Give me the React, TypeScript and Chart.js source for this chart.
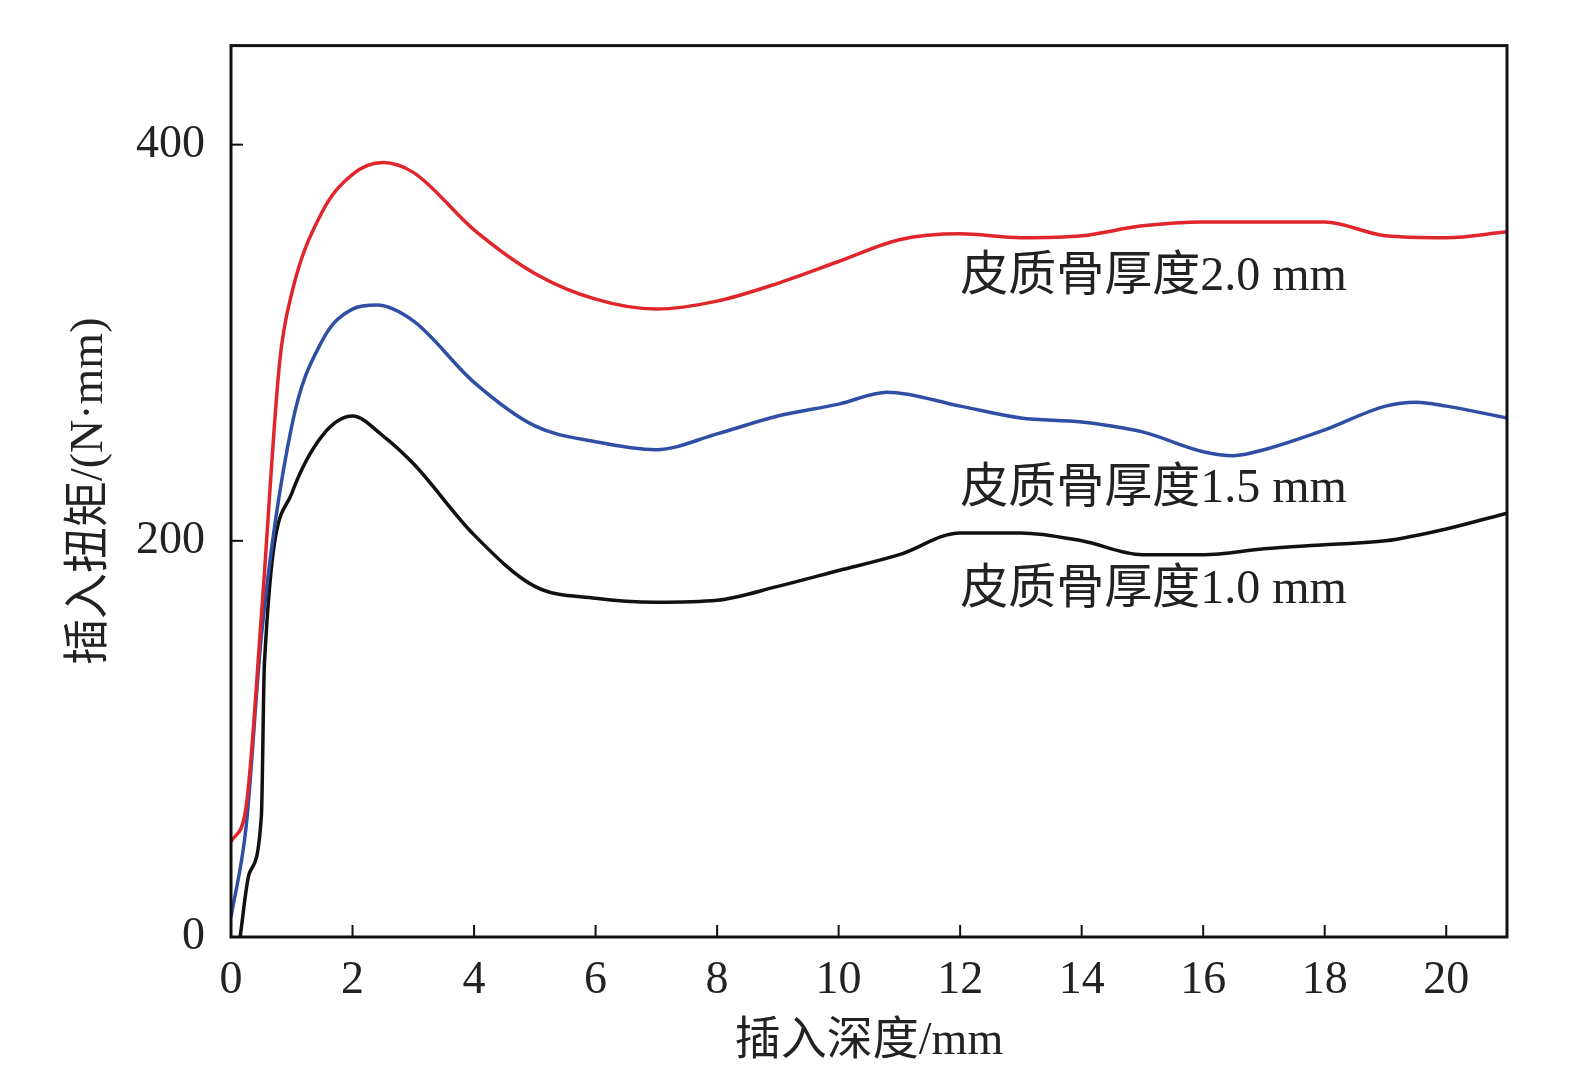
import { useEffect, useRef } from 'react';
import { Chart, registerables } from 'chart.js';

Chart.register(...registerables);

const depth20 = [0, 0.25, 0.5, 0.8, 1, 1.5, 2, 2.5, 3, 4, 5, 6, 7, 8, 9, 10, 11, 12, 13, 14, 15, 16, 17, 18, 19, 20, 21];
const torque20 = [48, 66, 162, 290, 325, 366, 385, 391, 386, 357, 335, 322, 317, 321, 330, 341, 352, 355, 353, 354, 359, 361, 361, 361, 354, 353, 356];

const depth15 = [0, 0.25, 0.5, 1, 1.5, 2, 2.4, 3, 4, 5, 6, 7, 8, 9, 10, 10.8, 12, 13, 14, 15, 16, 16.5, 17, 18, 19, 19.5, 20, 21];
const torque15 = [10, 56, 152, 258, 301, 317, 319, 311, 280, 258, 250, 246, 254, 263, 269, 275, 268, 262, 260, 255, 245, 243, 246, 256, 268, 270, 268, 262];

const depth10 = [0.15, 0.3, 0.5, 0.55, 1, 1.5, 2, 2.5, 3, 4, 5, 6, 7, 8, 9, 10, 11, 12, 13, 14, 15, 16, 17, 18, 19, 20, 21];
const torque10 = [0, 32, 61, 138, 224, 253, 263, 253, 239, 203, 177, 171, 169, 170, 177, 185, 193, 204, 204, 200, 193, 193, 196, 198, 200, 206, 214];

const xTicks = [0, 2, 4, 6, 8, 10, 12, 14, 16, 18, 20];
const yTicks = [0, 200, 400];

const labels = ['皮质骨厚度2.0 mm', '皮质骨厚度1.5 mm', '皮质骨厚度1.0 mm'];
const labelPos = [[12, 333], [12, 226], [12, 175]];
const colors = ['#e0262b', '#2e4fa3', '#111111'];

const FONT = '"Liberation Serif", "Noto Sans CJK SC", serif';

const pts = (xs: number[], ys: number[]) => xs.map((x, i) => ({ x, y: ys[i] }));

export default function App() {
  const canvasRef = useRef<HTMLCanvasElement>(null);

  useEffect(() => {
    const canvas = canvasRef.current;
    if (!canvas) return;
    const deco = {
      id: 'deco',
      afterDraw(chart: any) {
        const { ctx, chartArea: a, scales } = chart;
        ctx.save();
        ctx.strokeStyle = '#111';
        ctx.lineWidth = 3;
        ctx.strokeRect(a.left, a.top, a.right - a.left, a.bottom - a.top);
        ctx.lineWidth = 2;
        xTicks.forEach((v) => {
          const x = scales.x.getPixelForValue(v);
          ctx.beginPath(); ctx.moveTo(x, a.bottom); ctx.lineTo(x, a.bottom - 12); ctx.stroke();
        });
        yTicks.forEach((v) => {
          const y = scales.y.getPixelForValue(v);
          ctx.beginPath(); ctx.moveTo(a.left, y); ctx.lineTo(a.left + 12, y); ctx.stroke();
        });
        ctx.fillStyle = '#222';
        ctx.font = '48px ' + FONT;
        ctx.textBaseline = 'middle';
        labels.forEach((t, i) => {
          ctx.fillText(t, scales.x.getPixelForValue(labelPos[i][0]), scales.y.getPixelForValue(labelPos[i][1]));
        });
        ctx.restore();
      },
    };
    const chart = new Chart(canvas, {
      type: 'line',
      plugins: [deco],
      data: {
        datasets: [
          { data: pts(depth20, torque20), borderColor: colors[0] },
          { data: pts(depth15, torque15), borderColor: colors[1] },
          { data: pts(depth10, torque10), borderColor: colors[2] },
        ].map((d) => ({ ...d, borderWidth: 3.5, pointRadius: 0, cubicInterpolationMode: 'monotone' as const })),
      },
      options: {
        animation: false,
        responsive: false,
        layout: { padding: { top: 2, right: 68, left: 0, bottom: 12 } },
        plugins: { legend: { display: false }, tooltip: { enabled: false } },
        scales: {
          x: {
            type: 'linear', min: 0, max: 21,
            grid: { display: false }, border: { display: false },
            afterBuildTicks: (s: any) => { s.ticks = xTicks.map((value) => ({ value })); },
            ticks: { color: '#222', font: { family: FONT, size: 46 }, padding: 8 },
            afterFit: (s: any) => { s.height = 133; },
            title: { display: true, text: '插入深度/mm', color: '#222', font: { family: FONT, size: 46 }, padding: 0 },
          },
          y: {
            min: 0, max: 450,
            grid: { display: false }, border: { display: false },
            afterBuildTicks: (s: any) => { s.ticks = yTicks.map((value) => ({ value })); },
            ticks: { color: '#222', font: { family: FONT, size: 46 }, padding: 18 },
            afterFit: (s: any) => { s.width = 231; },
            title: { display: true, text: '插入扭矩/(N·mm)', color: '#222', font: { family: FONT, size: 46 }, padding: { top: 62, bottom: 0 } },
          },
        },
      },
    } as any);
    return () => chart.destroy();
  }, []);

  return (
    <div style={{ margin: -8, width: 1575, height: 1082, background: '#fff' }}>
      <canvas ref={canvasRef} width={1575} height={1082} />
    </div>
  );
}
